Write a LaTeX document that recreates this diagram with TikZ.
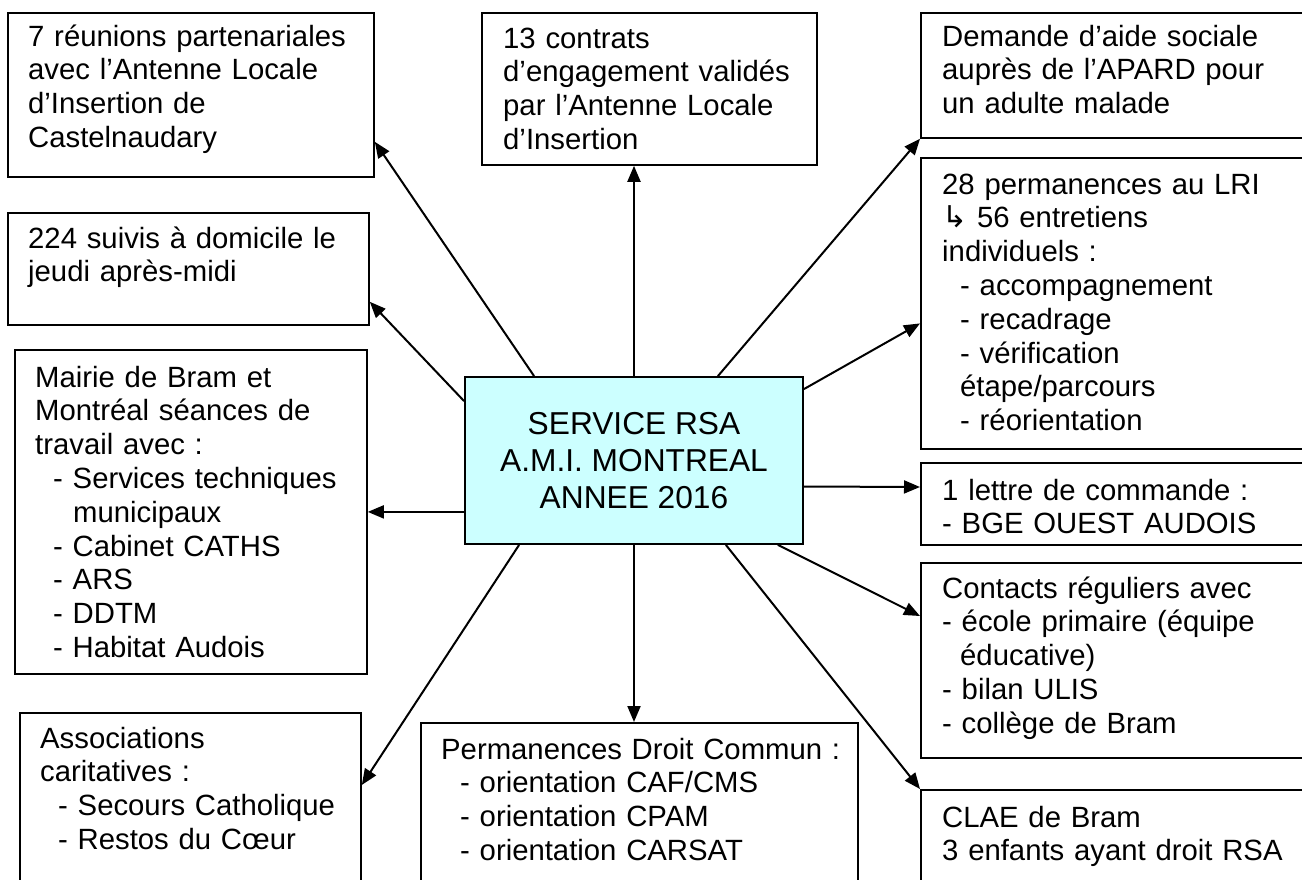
\documentclass[tikz,border=0pt]{standalone}
\usepackage{fontspec}
\setmainfont{Liberation Sans}
\newfontfamily\symbfont{DejaVu Sans}
\usetikzlibrary{arrows.meta}

\definecolor{rsacyan}{RGB}{204,255,255}

\begin{document}
\begin{tikzpicture}
	[x=1pt, y=-1pt,
	box/.style={draw, line width=1.8pt, anchor=north west, inner sep=0pt},
	txt/.style={anchor=base west, inner sep=0pt, text width=420pt, align=left, font=\fontsize{29.3}{33.8}\selectfont},
	centre/.style={draw, line width=1.8pt, fill=rsacyan, inner sep=0pt, align=center, font=\fontsize{31.7}{36.7}\selectfont},
	arr/.style={line width=2pt, -{Triangle[length=16pt,width=13pt]}}]

\useasboundingbox (0,0) rectangle (1302,879);

% centre
\node [centre, minimum width=338pt, minimum height=167pt] (rsa) at (634,460.5) {SERVICE RSA\\A.M.I. MONTREAL\\ANNEE 2016};

% left column
\node [box, minimum width=366pt, minimum height=164pt] (reunions) at (7,12) {};
\node [txt] (reunions-t) at ([shift={(21,34)}]reunions.north west) {7 réunions partenariales\\avec l’Antenne Locale\\d’Insertion de\\Castelnaudary};

\node [box, minimum width=361pt, minimum height=112pt] (suivis) at (7,212) {};
\node [txt] (suivis-t) at ([shift={(21,36)}]suivis.north west) {224 suivis à domicile le\\jeudi après-midi};

\node [box, minimum width=352pt, minimum height=324pt] (mairie) at (14,349) {};
\node [txt] (mairie-t) at ([shift={(21,38)}]mairie.north west) {Mairie de Bram et\\Montréal séances de\\travail avec :\\\hspace*{18pt}- Services techniques\\\hspace*{38pt}municipaux\\\hspace*{18pt}- Cabinet CATHS\\\hspace*{18pt}- ARS\\\hspace*{18pt}- DDTM\\\hspace*{18pt}- Habitat Audois};

\node [box, minimum width=341pt, minimum height=190pt] (assoc) at (19,712) {};
\node [txt] (assoc-t) at ([shift={(21,36)}]assoc.north west) {Associations\\caritatives :\\\hspace*{18pt}- Secours Catholique\\\hspace*{18pt}- Restos du Cœur};

% middle column
\node [box, minimum width=335pt, minimum height=152pt] (contrats) at (481,12) {};
\node [txt] (contrats-t) at ([shift={(22,36)}]contrats.north west) {13 contrats\\d’engagement validés\\par l’Antenne Locale\\d’Insertion};

\node [box, minimum width=437pt, minimum height=180pt] (droit) at (420,722) {};
\node [txt] (droit-t) at ([shift={(21,37)}]droit.north west) {Permanences Droit Commun :\\\hspace*{19pt}- orientation CAF/CMS\\\hspace*{19pt}- orientation CPAM\\\hspace*{19pt}- orientation CARSAT};

% right column
\node [box, minimum width=400pt, minimum height=125pt] (demande) at (920,12) {};
\node [txt] (demande-t) at ([shift={(22,34)}]demande.north west) {Demande d’aide sociale\\auprès de l’APARD pour\\un adulte malade};

\node [box, minimum width=400pt, minimum height=291pt] (lri) at (920,157) {};
\node [txt] (lri-t) at ([shift={(22,37)}]lri.north west) {28 permanences au LRI\\{\symbfont\fontsize{30}{30}\selectfont ↳} 56 entretiens\\individuels :\\\hspace*{18pt}- accompagnement\\\hspace*{18pt}- recadrage\\\hspace*{18pt}- vérification\\\hspace*{18pt}étape/parcours\\\hspace*{18pt}- réorientation};

\node [box, minimum width=400pt, minimum height=82pt] (lettre) at (920,462) {};
\node [txt] (lettre-t) at ([shift={(22,38)}]lettre.north west) {1 lettre de commande :\\- BGE OUEST AUDOIS};

\node [box, minimum width=400pt, minimum height=195pt] (contacts) at (920,562) {};
\node [txt] (contacts-t) at ([shift={(22,36)}]contacts.north west) {Contacts réguliers avec\\- école primaire (équipe\\\hspace*{18pt}éducative)\\- bilan ULIS\\- collège de Bram};

\node [box, minimum width=400pt, minimum height=120pt] (clae) at (920,789) {};
\node [txt] (clae-t) at ([shift={(22,38)}]clae.north west) {CLAE de Bram\\3 enfants ayant droit RSA};

% arrows from the centre
\draw [arr] ([shift={(70,0)}]rsa.north west) -- ([shift={(0,-36)}]reunions.south east);
\draw [arr] (rsa.north) -- (rsa.north |- contrats.south);
\draw [arr] ([shift={(-86,0)}]rsa.north east) -- (demande.south west);
\draw [arr] ([shift={(0,13)}]rsa.north east) -- ([shift={(0,20)}]lri.west);
\draw [arr] ([shift={(0,26)}]rsa.east) -- ([shift={(0,25)}]lettre.north west);
\draw [arr] ([shift={(-26,0)}]rsa.south east) -- ([shift={(0,54)}]contacts.north west);
\draw [arr] ([shift={(-78,0)}]rsa.south east) -- (clae.north west);
\draw [arr] (rsa.south) -- (rsa.south |- droit.north);
\draw [arr] ([shift={(55,0)}]rsa.south west) -- ([shift={(0,73)}]assoc.north east);
\draw [arr] (rsa.west |- mairie.east) -- (mairie.east);
\draw [arr] ([shift={(0,25)}]rsa.north west) -- ([shift={(0,-24)}]suivis.south east);

\end{tikzpicture}
\end{document}
